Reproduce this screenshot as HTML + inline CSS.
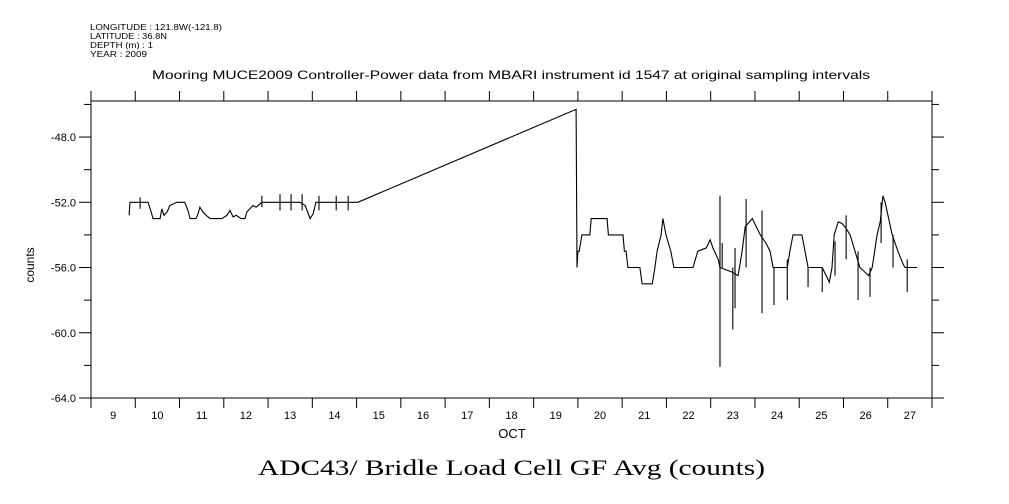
<!DOCTYPE html>
<html><head><meta charset="utf-8"><style>
body{margin:0;background:#fff;width:1009px;height:504px;overflow:hidden}
svg{display:block}
</style></head><body>
<svg id="chart" width="1009" height="504" xmlns="http://www.w3.org/2000/svg" font-family="Liberation Sans, sans-serif">
<g font-size="8" fill="#000">
<text x="90" y="30" textLength="132" lengthAdjust="spacingAndGlyphs">LONGITUDE : 121.8W(-121.8)</text>
<text x="90" y="39" textLength="77" lengthAdjust="spacingAndGlyphs">LATITUDE : 36.8N</text>
<text x="90" y="48" textLength="63" lengthAdjust="spacingAndGlyphs">DEPTH (m) : 1</text>
<text x="90" y="57" textLength="57" lengthAdjust="spacingAndGlyphs">YEAR : 2009</text>
</g>
<text x="152" y="79" textLength="718" lengthAdjust="spacingAndGlyphs" font-size="12">Mooring MUCE2009 Controller-Power data from MBARI instrument id 1547 at original sampling intervals</text>
<rect x="91" y="101" width="841" height="297" fill="none" stroke="#000"/>
<g id="axes" stroke="#000" fill="#000"></g>
<g id="series"></g>
<text x="512" y="438" text-anchor="middle" font-size="13">OCT</text>
<text transform="translate(34,265) rotate(-90)" text-anchor="middle" font-size="12">counts</text>
<text x="258" y="475" textLength="507" lengthAdjust="spacingAndGlyphs" font-size="22" font-family="Liberation Serif, serif">ADC43/ Bridle Load Cell GF Avg (counts)</text>
</svg>
<script>
const dayLabels=[9,10,11,12,13,14,15,16,17,18,19,20,21,22,23,24,25,26,27];
const yTicks=[-48,-52,-56,-60,-64];
const tDays=[0.86,0.86,0.88,1.29,1.36,1.40,1.56,1.60,1.65,1.72,1.78,1.94,2.12,2.19,2.24,2.37,2.42,2.46,2.53,2.60,2.69,2.96,3.07,3.14,3.21,3.28,3.39,3.48,3.52,3.59,3.66,3.73,3.86,4.18,4.72,4.84,4.95,5.02,5.08,5.40,6.03,10.96,10.98,11.00,11.03,11.09,11.27,11.30,11.34,11.66,11.69,11.73,12.02,12.05,12.09,12.13,12.40,12.45,12.68,12.74,12.79,12.88,12.92,12.99,13.10,13.17,13.60,13.71,13.90,13.99,14.05,14.17,14.21,14.50,14.62,14.71,14.78,14.94,15.12,15.25,15.34,15.41,15.73,15.79,15.86,16.06,16.13,16.20,16.52,16.61,16.68,16.74,16.79,16.88,16.97,17.06,17.15,17.26,17.37,17.49,17.57,17.65,17.76,17.83,17.89,17.94,17.98,18.10,18.23,18.35,18.39,18.66];
const values=[-52.8,-52.8,-52,-52,-52.6,-53,-53,-52.4,-52.8,-52.6,-52.2,-52,-52,-52.5,-53,-53,-52.7,-52.3,-52.6,-52.8,-53,-53,-52.8,-52.5,-52.9,-52.8,-53,-53,-52.6,-52.4,-52.2,-52.3,-52,-52,-52,-52.2,-53,-52.7,-52,-52,-52,-46.3,-56,-55,-55,-54,-54,-53,-53,-53,-54,-54,-54,-55,-55,-56,-56,-57,-57,-56,-55,-54,-53,-54,-55,-56,-56,-55,-54.8,-54.3,-54.8,-55.5,-56,-56.3,-56.5,-55,-53.5,-53,-54,-54.5,-55,-56,-56,-55,-54,-54,-55,-56,-56,-56.5,-56.9,-56,-54,-53.2,-53.3,-53.6,-54,-55,-56,-56.3,-56.5,-56,-54,-53.2,-51.6,-52,-52.5,-54,-55,-55.8,-56,-56];
const spikeT=[1.11,3.86,4.27,4.52,4.77,5.15,5.54,5.81,14.21,14.26,14.50,14.55,14.80,15.16,15.43,15.73,16.20,16.52,16.81,17.06,17.33,17.60,17.85,18.12,18.44];
const spikeLo=[-52.4,-52.3,-52.5,-52.5,-52.5,-52.5,-52.5,-52.5,-62.1,-56,-59.8,-58.5,-56,-58.8,-58.3,-58,-57.2,-57.5,-56.5,-55.5,-58,-57.8,-54.5,-56,-57.5];
const spikeHi=[-51.7,-51.6,-51.5,-51.5,-51.5,-51.6,-51.6,-51.6,-51.6,-54.5,-56,-54.8,-51.8,-52.5,-56,-55.5,-56,-56,-54.4,-52.8,-55,-56,-52,-54,-55.5];
const X=t=>91+t*(841/19);
const Y=v=>398-(v+64)*16.31;
const NS='http://www.w3.org/2000/svg';
const ax=document.getElementById('axes');
function mk(tag,at,parent){const e=document.createElementNS(NS,tag);for(const k in at)e.setAttribute(k,at[k]);parent.appendChild(e);return e;}
for(let i=0;i<=19;i++){const x=X(i);
 const t1=mk('line',{x1:x,y1:398,x2:x,y2:408},ax);
 
 
 const t2=mk('line',{x1:x,y1:101,x2:x,y2:91},ax);
 
 }
dayLabels.forEach((d,i)=>{const t=mk('text',{x:X(i+0.5),y:419,'text-anchor':'middle','font-size':11,stroke:'none'},ax);t.textContent=d;
 
 });
for(let v=-64;v<=-46;v+=2){const y=Y(v);const major=(v%4===0);
 const a=mk('line',{x1:major?79:84,y1:y,x2:91,y2:y},ax);
 
 
 const b=mk('line',{x1:932,y1:y,x2:major?944:939,y2:y},ax);
 
 }
yTicks.forEach(v=>{const t=mk('text',{x:76,y:Y(v)+4,'text-anchor':'end','font-size':11,stroke:'none'},ax);t.textContent=v.toFixed(1);
 
 });
const s=document.getElementById('series');
const pts=tDays.map((t,i)=>X(t).toFixed(1)+','+Y(values[i]).toFixed(1)).join(' ');
const pl=mk('polyline',{points:pts,fill:'none',stroke:'#000','stroke-width':1.1},s);


spikeT.forEach((t,i)=>{const l=mk('line',{x1:X(t),x2:X(t),y1:Y(spikeLo[i]),y2:Y(spikeHi[i]),stroke:'#000','stroke-width':1.1},s);
 
 });
</script>
</body></html>
